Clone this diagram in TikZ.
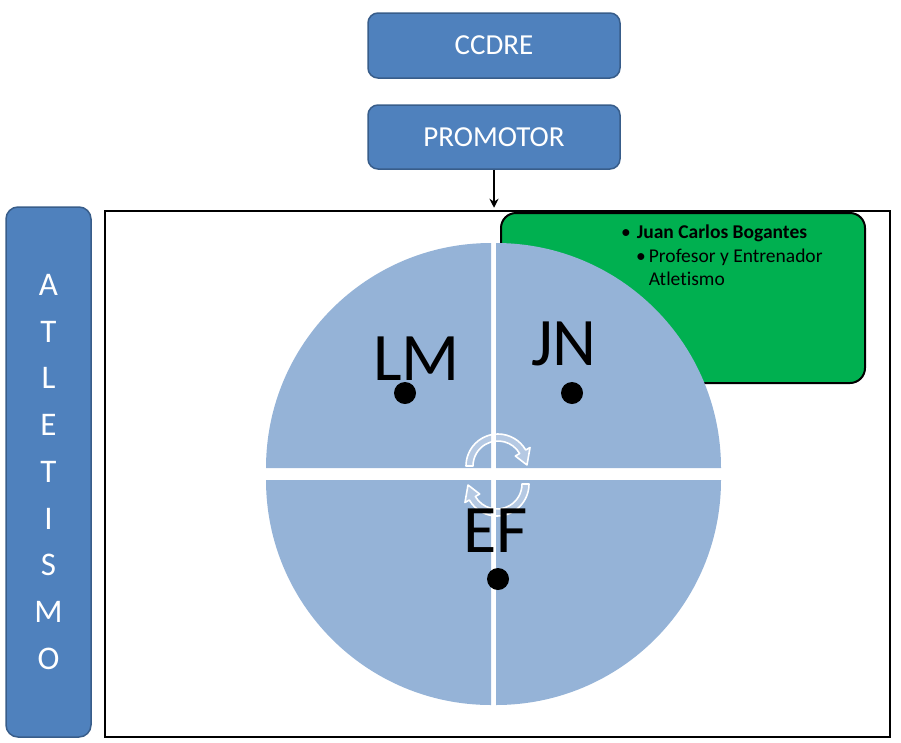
\documentclass[tikz,border=0pt]{standalone}
\usepackage{fontspec}
\setmainfont{Carlito}
\usetikzlibrary{arrows.meta,calc}
\definecolor{boxblue}{HTML}{4F81BD}
\definecolor{boxedge}{HTML}{385D8A}
\definecolor{quadblue}{HTML}{95B3D7}
\definecolor{grn}{HTML}{00B050}
\begin{document}
\begin{tikzpicture}[x=1pt,y=-1pt,
  bluebox/.style={draw=boxedge, line width=1.5pt, fill=boxblue, rounded corners=10pt,
    text=white, inner sep=0pt},
  quarter/.style={fill=quadblue},
  bigletters/.style={font=\fontsize{68}{80}\selectfont, anchor=base west, inner sep=0pt},
  dotsty/.style={circle, fill=black, minimum size=22pt, inner sep=0pt},
  cyclearrow/.style={fill=white, fill opacity=0.3, draw=white, draw opacity=1, line width=1.6pt, line join=round}
]
\useasboundingbox (0,0) rectangle (901,742);

% top boxes
\node[bluebox, minimum width=252pt, minimum height=65pt, font=\fontsize{29}{34}\selectfont] (ccdre) at (494,45.5) {CCDRE};
\node[bluebox, minimum width=252pt, minimum height=64pt, font=\fontsize{29}{34}\selectfont] (promotor) at (494,137) {PROMOTOR};

% left vertical box
\node[bluebox, rounded corners=12pt, minimum width=85pt, minimum height=530pt, align=center,
  font=\fontsize{33}{46.75}\selectfont] (atl) at (48.5,472) {A\\T\\L\\E\\T\\I\\S\\M\\O};

% main frame
\node[draw=black, line width=2pt, minimum width=785pt, minimum height=526pt, inner sep=0pt] (frame) at (497.5,474) {};

% arrow
\draw[line width=1.8pt, -{Stealth[length=9pt,width=9pt]}] (promotor.south) -- ($(promotor.south)+(0,38)$) coordinate (arrowend);

% green box
\node[draw=black, line width=2pt, fill=grn, rounded corners=15pt, minimum width=364pt, minimum height=170pt, inner sep=0pt] (green) at (683,298) {};
\node[anchor=north west, inner sep=0pt, align=left, font=\fontsize{19.5}{23.5}\selectfont] (gtext) at (621,225)
  {\textbullet\hspace{6pt}\textbf{Juan Carlos Bogantes}\\
   \hspace{15pt}\textbullet\hspace{3pt}Profesor y Entrenador\\
   \hspace{15pt}\phantom{\textbullet}\hspace{3pt}Atlet\kern0pt ismo};

% quarters
\fill[quarter] (491,468) -- ++(180:225) arc[start angle=180,end angle=270,radius=225] -- cycle;
\fill[quarter] (496,468) -- ++(270:225) arc[start angle=270,end angle=360,radius=225] -- cycle;
\fill[quarter] (496,480) -- ++(0:225) arc[start angle=0,end angle=90,radius=225] -- cycle;
\fill[quarter] (491,480) -- ++(90:225) arc[start angle=90,end angle=180,radius=225] -- cycle;

% cycle arrows
\coordinate (c1) at (498,466);
\coordinate (c2) at (497,484);
\filldraw[cyclearrow] ($(c1)+(180:32)$) arc[start angle=180,end angle=330,radius=32]
  -- ($(c1)+(330:37)$) -- ($(c1)+(358:29)$) -- ($(c1)+(330:20)$) -- ($(c1)+(330:25)$)
  arc[start angle=330,end angle=180,radius=25] -- cycle;
\filldraw[cyclearrow] ($(c2)+(0:32)$) arc[start angle=0,end angle=150,radius=32]
  -- ($(c2)+(150:37)$) -- ($(c2)+(178:29)$) -- ($(c2)+(150:20)$) -- ($(c2)+(150:25)$)
  arc[start angle=150,end angle=0,radius=25] -- cycle;

% labels
\node[bigletters] (lm) at (373,380) {LM};
\node[bigletters] (jn) at (531,365) {JN};
\node[bigletters] (ef) at (463,552) {EF};

% dots
\node[dotsty] (dlm) at (405,393) {};
\node[dotsty] (djn) at (572,393) {};
\node[dotsty] (def) at (498,579) {};
\end{tikzpicture}
\end{document}
